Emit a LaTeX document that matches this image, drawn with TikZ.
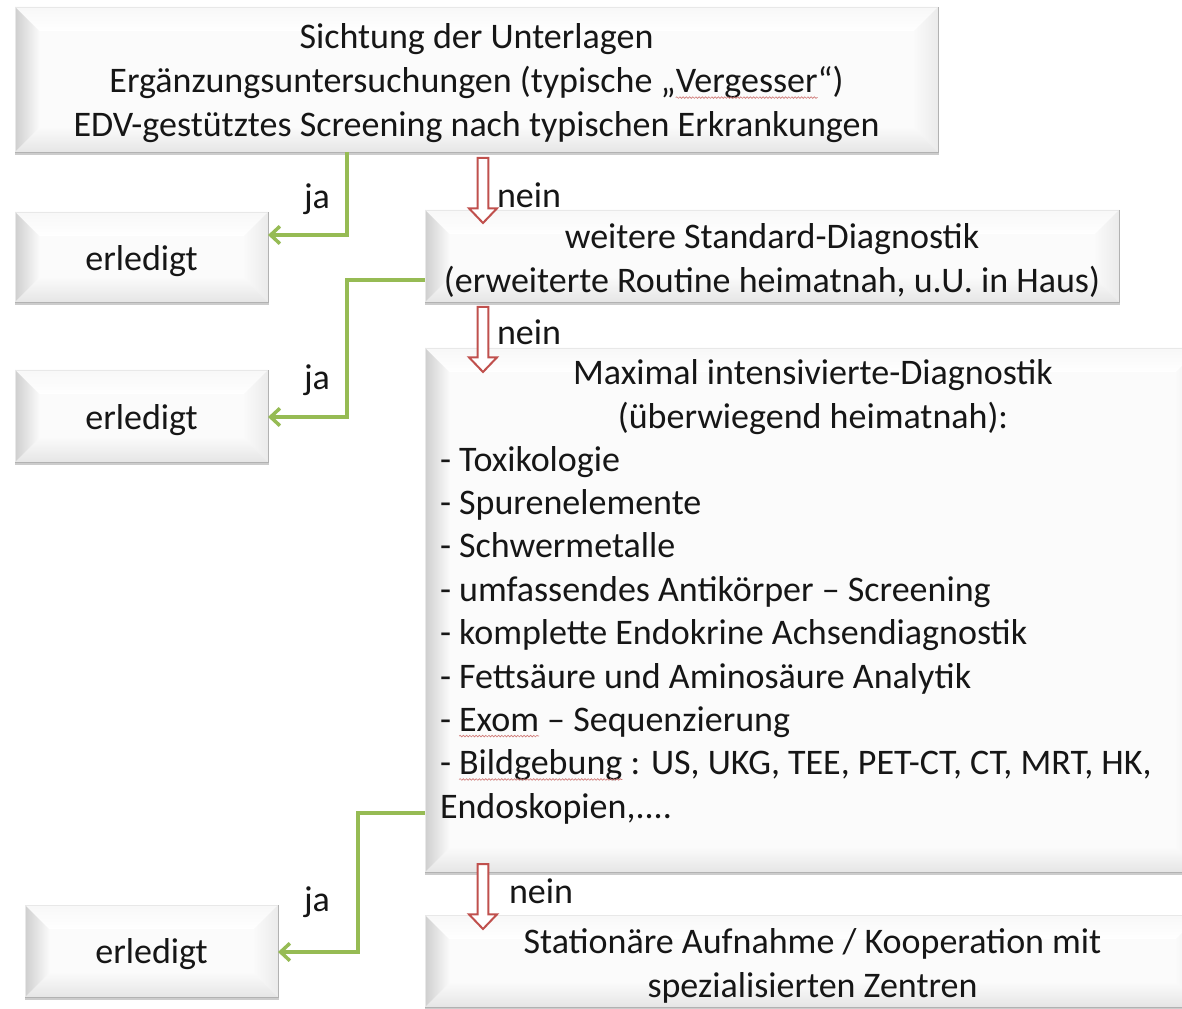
\documentclass[tikz,border=0pt]{standalone}
\usepackage{fontspec}
\setmainfont{Carlito}
\usetikzlibrary{arrows.meta,calc,decorations.pathmorphing}
\definecolor{jagreen}{RGB}{150,187,84}
\definecolor{neinred}{RGB}{192,80,77}
\definecolor{txt}{RGB}{22,22,22}
\tikzset{
  bevelbox/.style={rectangle, inner sep=0pt, outer sep=0pt, fill=white,
    path picture={
      \path (path picture bounding box.north west) coordinate (pNW)
            (path picture bounding box.north east) coordinate (pNE)
            (path picture bounding box.south west) coordinate (pSW)
            (path picture bounding box.south east) coordinate (pSE);
      \path ($(pNW)+(18pt,-18pt)$) coordinate (iNW) ($(pNE)+(-18pt,-18pt)$) coordinate (iNE)
            ($(pSW)+(18pt,18pt)$) coordinate (iSW) ($(pSE)+(-18pt,18pt)$) coordinate (iSE);
      \fill[white!97!gray] (pNW) rectangle (pSE);
      \shade[top color=white!94!gray, bottom color=white] (pNW)--(pNE)--(iNE)--(iNW)--cycle;
      \shade[left color=white!96!gray, right color=white!84!gray] (pNE)--(pSE)--(iSE)--(iNE)--cycle;
      \shade[top color=white!96!gray, bottom color=white!80!gray] (pSW)--(pSE)--(iSE)--(iSW)--cycle;
      \shade[left color=white!62!gray, right color=white!96!gray] (pNW)--(pSW)--(iSW)--(iNW)--cycle;
    }},
  jaline/.style={draw=jagreen, line width=2.6pt, -{Straight Barb[length=7pt,width=13pt]}},
  neinarrow/.style={draw=neinred, fill=white, line width=1.5pt, line join=miter},
  lbl/.style={inner sep=0pt, outer sep=0pt, text=txt},
  boxtext/.style={lbl, align=center},
}
\newcommand\blockarr[2]{\draw[neinarrow] ($(#1)+(-4.1pt,0)$) -- ($(#2)+(-4.1pt,11pt)$) -- ($(#2)+(-10.5pt,11pt)$) -- (#2) -- ($(#2)+(10.5pt,11pt)$) -- ($(#2)+(4.1pt,11pt)$) -- ($(#1)+(4.1pt,0)$) -- cycle;}
\newcommand\sq[1]{\tikz[baseline=(sqt.base)]{\node[inner sep=0pt,outer sep=0pt,minimum size=0pt,anchor=base,fill=none,draw=none,path picture={},align=none](sqt){#1};\draw[overlay,neinred!75,line width=0.5pt,decorate,decoration={snake,amplitude=0.6pt,segment length=2.4pt}]([yshift=-3.5pt]sqt.base west)--([yshift=-3.5pt]sqt.base east);}}
\begin{document}
\begin{tikzpicture}[x=0.75pt,y=-0.75pt,font=\fontsize{27}{33}\selectfont]
\useasboundingbox (0,0) rectangle (1182,1009);
\clip (0,0) rectangle (1182,1009);
\fill[white] (0,0) rectangle (1182,1009);

% boxes
\node[bevelbox, minimum width=692.25pt, minimum height=108.75pt] (B1) at (476.5,79.5) {};
\node[bevelbox, minimum width=189.75pt, minimum height=67.5pt] (E1) at (141.5,257) {};
\node[bevelbox, minimum width=189.75pt, minimum height=69pt] (E2) at (141.5,416) {};
\node[bevelbox, minimum width=189.75pt, minimum height=69pt] (E3) at (151.5,951) {};
\node[bevelbox, minimum width=520.5pt, minimum height=69pt] (B2) at (772,256) {};
\node[bevelbox, minimum width=581.25pt, minimum height=393pt] (B3) at (812.5,610) {};
\node[bevelbox, minimum width=581.25pt, minimum height=69pt] (B4) at (812.5,961) {};

% box texts
\node[boxtext] (T1) at ($(B1.center)+(0,4)$)
  {Sichtung der Unterlagen\\Ergänzungsuntersuchungen (typische „\sq{Vergesser}“)\\EDV-gestütztes Screening nach typischen Erkrankungen};
\node[boxtext] (TE1) at ($(E1.center)+(0,4)$) {erledigt};
\node[boxtext] (TE2) at ($(E2.center)+(0,4)$) {erledigt};
\node[boxtext] (TE3) at ($(E3.center)+(0,3)$) {erledigt};
\node[boxtext] (T2) at ($(B2.center)+(0,4)$)
  {weitere Standard-Diagnostik\\(erweiterte Routine heimatnah, u.U. in Haus)};
\node[boxtext] (T4) at ($(B4.center)+(0,5)$)
  {Stationäre Aufnahme / Kooperation mit\\spezialisierten Zentren};
\node[boxtext] (T3) at (813,397) {Maximal intensivierte-Diagnostik\\(überwiegend heimatnah):};
\node[lbl, align=left, anchor=north west, font=\fontsize{27}{32.55}\selectfont] (L3) at (440,446)
  {- Toxikologie\\- Spurenelemente\\- Schwermetalle\\- umfassendes Antikörper – Screening\\- komplette Endokrine Achsendiagnostik\\- Fettsäure und Aminosäure Analytik\\- \sq{Exom} – Sequenzierung\\- \sq{Bildgebung} : US, UKG, TEE, PET-CT, CT, MRT, HK,\\Endoskopien,....};

% box edges and shadows
\foreach \n in {B1,E1,E2,E3,B2,B3,B4}{
  \fill[black!20] ([yshift=-0.3pt]\n.south west) rectangle ([xshift=0.8pt,yshift=-2.2pt]\n.south east);
  \draw[gray!60, line width=0.7pt] (\n.south west) -- (\n.south east) -- (\n.north east);
  \draw[gray!18, line width=0.5pt] (\n.south west) -- (\n.north west) -- (\n.north east);
}

% green "ja" connectors
\coordinate (k1) at (347,235);
\draw[jaline] (k1 |- B1.south) -- (k1) -- (k1 -| E1.east);
\coordinate (k2) at (347,280);
\coordinate (k2b) at (347,417);
\draw[jaline] (k2 -| B2.west) -- (k2) -- (k2b) -- (k2b -| E2.east);
\coordinate (k3) at (358,813);
\coordinate (k3b) at (358,952);
\draw[jaline] (k3 -| B3.west) -- (k3) -- (k3b) -- (k3b -| E3.east);

\node[lbl] (ja1) at (317,199) {ja};
\node[lbl] (ja2) at (317,380) {ja};
\node[lbl] (ja3) at (317,902) {ja};

% red "nein" block arrows
\coordinate (r1t) at (483,158); \coordinate (r1b) at (483,223);
\coordinate (r2t) at (483,307); \coordinate (r2b) at (483,372);
\coordinate (r3t) at (483,864); \coordinate (r3b) at (483,929);
\blockarr{r1t}{r1b}
\blockarr{r2t}{r2b}
\blockarr{r3t}{r3b}

\node[lbl, anchor=west] (n1) at (497,195) {nein};
\node[lbl, anchor=west] (n2) at (497,332) {nein};
\node[lbl, anchor=west] (n3) at (509,891) {nein};
\end{tikzpicture}
\end{document}
